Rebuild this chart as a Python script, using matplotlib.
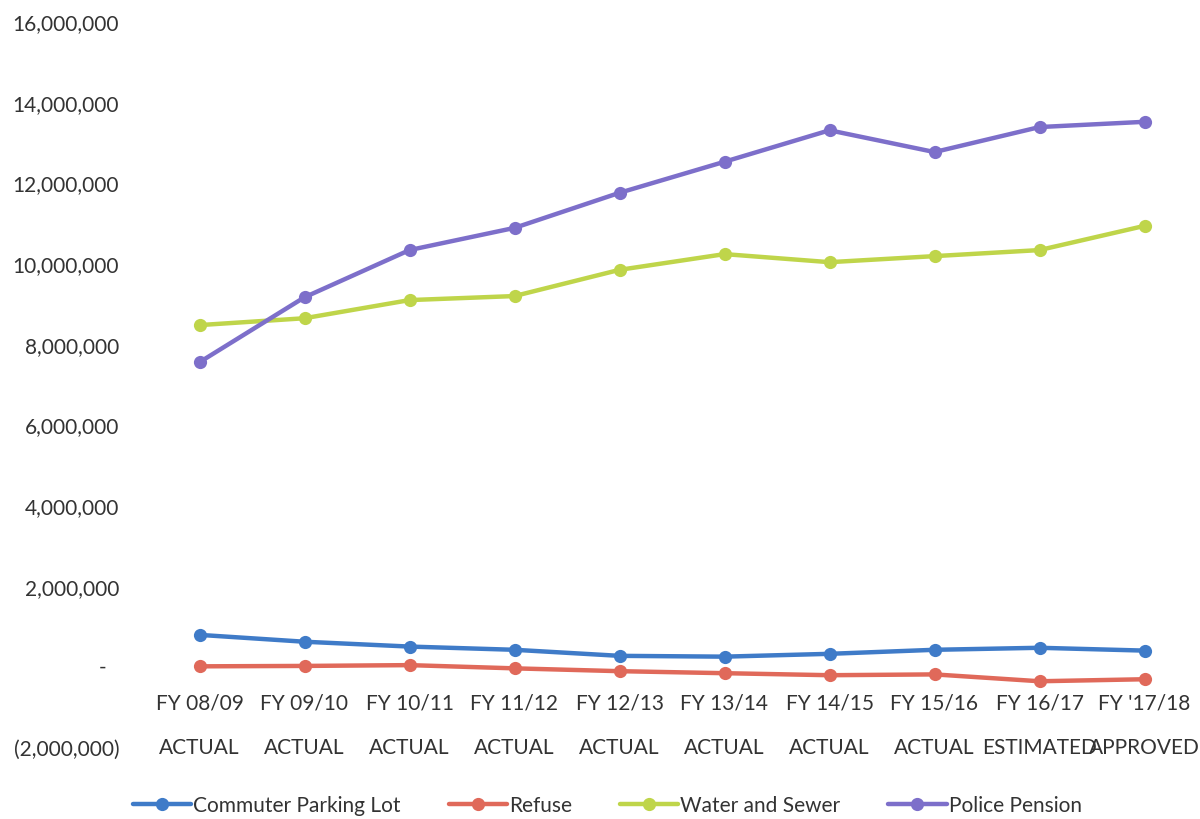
import matplotlib
matplotlib.use("Agg")
import matplotlib.pyplot as plt
from matplotlib.ticker import FuncFormatter

plt.rcParams["font.family"] = ["Lato", "DejaVu Sans"]

years = ["FY 08/09", "FY 09/10", "FY 10/11", "FY 11/12", "FY 12/13",
         "FY 13/14", "FY 14/15", "FY 15/16", "FY 16/17", "FY '17/18"]
status = ["ACTUAL", "ACTUAL", "ACTUAL", "ACTUAL", "ACTUAL",
          "ACTUAL", "ACTUAL", "ACTUAL", "ESTIMATED", "APPROVED"]

commuter_parking = [780000, 610000, 490000, 410000, 260000,
                    240000, 310000, 410000, 460000, 390000]
refuse = [0, 10000, 30000, -50000, -120000,
          -170000, -220000, -200000, -370000, -320000]
water_sewer = [8460000, 8630000, 9080000, 9180000, 9830000,
               10220000, 10020000, 10170000, 10320000, 10920000]
police_pension = [7540000, 9150000, 10320000, 10870000, 11740000,
                  12510000, 13290000, 12750000, 13370000, 13500000]

series = [
    ("Commuter Parking Lot", commuter_parking, "#3f7bc8"),
    ("Refuse", refuse, "#e0695a"),
    ("Water and Sewer", water_sewer, "#bfd54a"),
    ("Police Pension", police_pension, "#7d6fca"),
]

fig = plt.figure(figsize=(12, 8.2), dpi=100)
ax = fig.add_axes([0.1225, 0.0878, 0.875, 0.8854])

x = list(range(len(years)))
for name, vals, col in series:
    ax.plot(x, vals, color=col, lw=3.2, marker="o", ms=9.5,
            markeredgewidth=0, label=name, solid_capstyle="round")

ax.set_xlim(-0.5, len(years) - 0.5)
ax.set_ylim(-2000000, 16000000)
ax.set_yticks(range(-2000000, 16000001, 2000000))


def money(v, _pos):
    if v == 0:
        return ""
    if v < 0:
        return f"({abs(v):,.0f})"
    return f"{v:,.0f}"


ax.yaxis.set_major_formatter(FuncFormatter(money))
# accounting style dash for the zero line
ax.text(-0.92, 0, "-", ha="center", va="center", fontsize=15, color="#333333")

ax.set_xticks(x)
ax.set_xticklabels([f"{y}\n{s}" for y, s in zip(years, status)])
ax.spines["bottom"].set_position(("data", 0))
for sp in ax.spines.values():
    sp.set_visible(False)
ax.tick_params(axis="both", length=0, labelsize=15, colors="#333333")
ax.tick_params(axis="y", pad=20)
ax.tick_params(axis="x", pad=19)
for lbl in ax.get_xticklabels():
    lbl.set_linespacing(2.5)

fig.legend(loc="center", bbox_to_anchor=(0.506, 0.017), ncol=4,
           frameon=False, fontsize=15, handlelength=2.8, handletextpad=0.1,
           columnspacing=2.3, labelcolor="#333333")

fig.savefig("out.png", dpi=100)
